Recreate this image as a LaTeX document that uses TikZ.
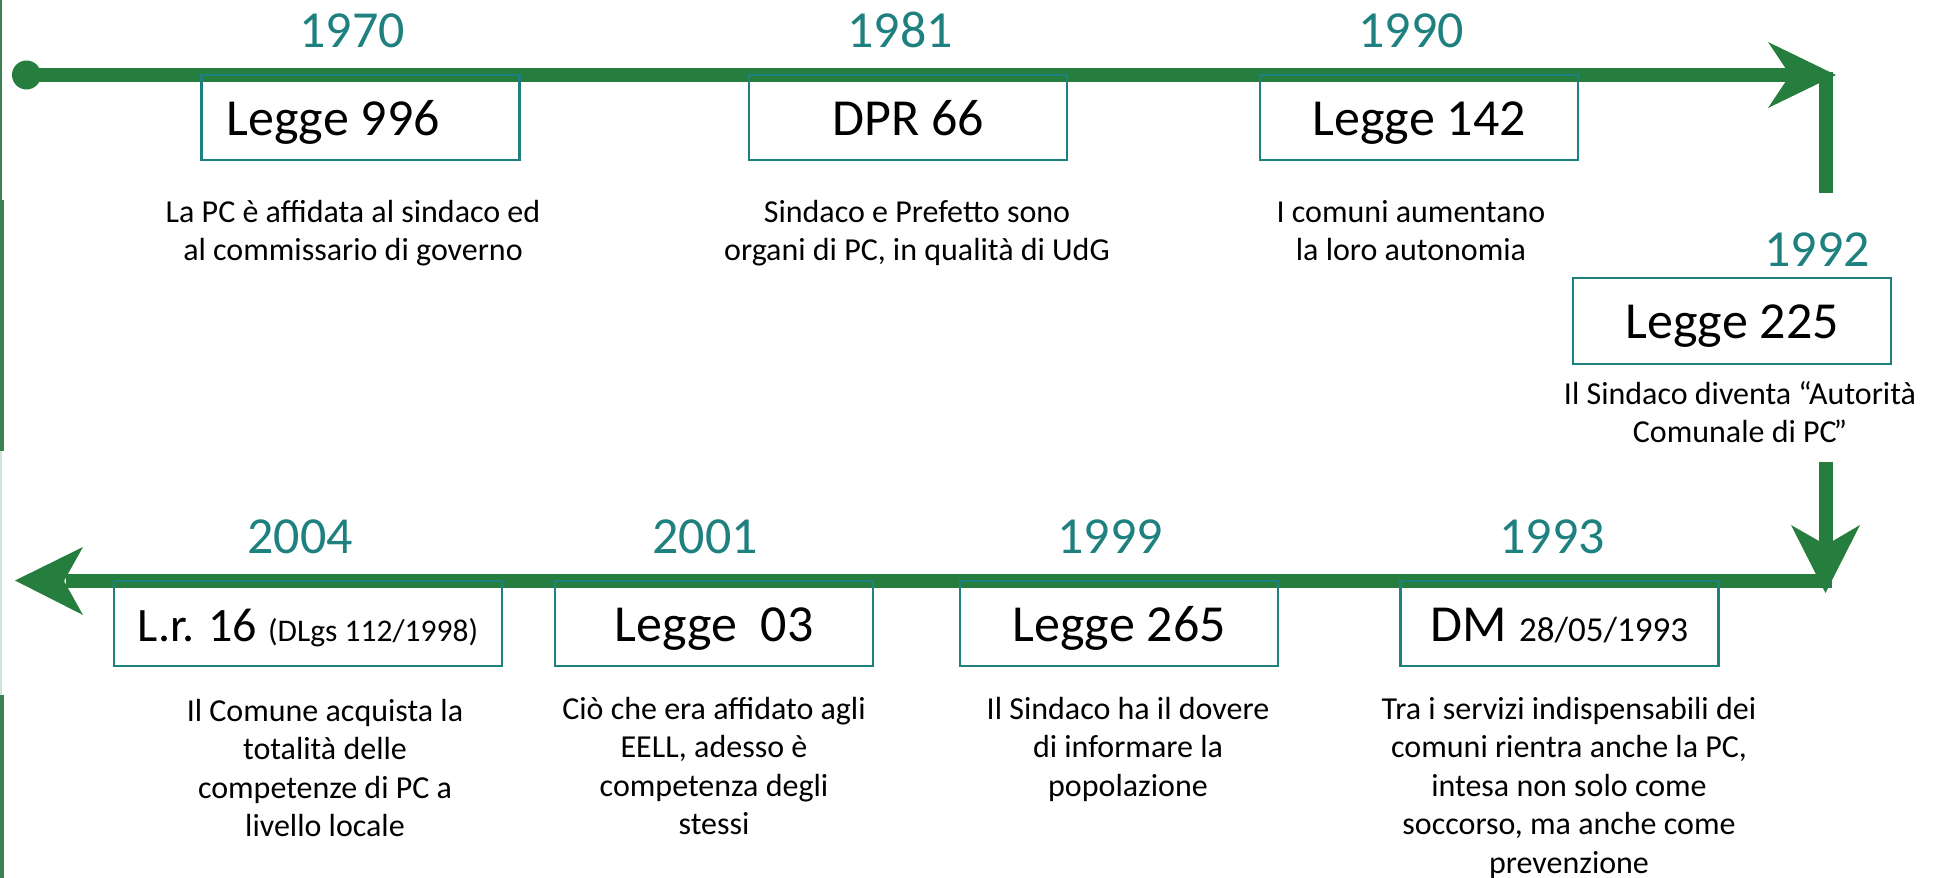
\documentclass[tikz,border=0pt]{standalone}
\usepackage{fontspec}
\setmainfont{Carlito}
\definecolor{lgreen}{HTML}{267E3E}
\definecolor{lteal}{HTML}{1F8080}
\definecolor{edgegreen}{HTML}{3C8150}
\definecolor{edgelight}{HTML}{CFE5D5}
\newcommand{\firstln}{\rule{0pt}{26pt}}
\begin{document}
\begin{tikzpicture}[x=1pt,y=-1pt,
  tline/.style={draw=lgreen, line width=13.5pt},
  ahead/.style={fill=lgreen},
  lawbox/.style={draw=lteal, line width=2.8pt, minimum width=318pt, minimum height=85pt,
    inner sep=0pt, text height=41pt, text depth=6pt, font=\fontsize{52}{62}\selectfont},
  yearlbl/.style={text=lteal, font=\fontsize{52}{62}\selectfont, anchor=base, inner sep=0pt},
  desc/.style={font=\fontsize{32}{38.5}\selectfont, align=center, anchor=north, inner sep=0pt}
]
\useasboundingbox (0,0) rectangle (1939,878);
% left edge strips
\fill[edgegreen] (0,0) rectangle (1.5,200);
\fill[edgegreen] (0,200) rectangle (4,451);
\fill[edgelight] (0,451) rectangle (2,695);
\fill[edgegreen] (0,695) rectangle (4,878);

% top timeline
\node[circle, fill=lgreen, minimum size=29pt, inner sep=0pt] (dot) at (26.5,75) {};
\coordinate (tend) at (1792,75);
\draw[tline] (dot.center) -- (tend);
\fill[ahead] (1836,75) -- (1768,42) -- (1790,75) -- (1768,108) -- cycle;
\coordinate (v1top) at (1826,72);
\coordinate (v1bot) at (1826,193);
\draw[tline, line width=14pt] (v1top) -- (v1bot);

% down arrow
\coordinate (v2top) at (1826,462);
\coordinate (v2end) at (1826,548);
\draw[tline, line width=14pt] (v2top) -- (v2end);
\fill[ahead] (1825.5,593) -- (1791,525) -- (1826,545) -- (1860,525) -- cycle;

% bottom timeline
\coordinate (brt) at (1832,581);
\coordinate (blt) at (66,581);
\draw[tline] (brt) -- (blt);
\fill[ahead] (15,580.5) -- (83,547) -- (64,581) -- (83,615) -- cycle;

% boxes
\node[lawbox] (b1970) at (360.5,117.5) {Legge 996\hspace*{55pt}};
\node[lawbox] (b1981) at (908,117.5) {DPR 66};
\node[lawbox] (b1990) at (1419,117.5) {Legge 142};
\node[lawbox, minimum height=86pt] (b1992) at (1732,321) {Legge 225};
\node[lawbox, minimum width=388pt] (b2004) at (308,623.5) {\fontsize{48}{56}\selectfont L.r. 16 {\fontsize{31.5}{38}\selectfont (DLgs 112/1998)}};
\node[lawbox] (b2001) at (714,623.5) {Legge\ \ 03};
\node[lawbox] (b1999) at (1119,623.5) {Legge 265};
\node[lawbox] (b1993) at (1559.5,623.5) {DM {\fontsize{35}{42}\selectfont 28/05/1993}};

% years
\node[yearlbl] (y1970) at (352,47) {1970};
\node[yearlbl] (y1981) at (900,47) {1981};
\node[yearlbl] (y1990) at (1411,47) {1990};
\node[yearlbl] (y1992) at (1817,266) {1992};
\node[yearlbl] (y2004) at (300,553) {2004};
\node[yearlbl] (y2001) at (705,553) {2001};
\node[yearlbl] (y1999) at (1110,553) {1999};
\node[yearlbl] (y1993) at (1552,553) {1993};

% descriptions
\node[desc] (d1970) at (353,196) {\firstln La PC è affidata al sindaco ed\\al commissario di governo};
\node[desc] (d1981) at (917,196) {\firstln Sindaco e Prefetto sono\\organi di PC, in qualità di UdG};
\node[desc] (d1990) at (1411,196) {\firstln I comuni aumentano\\la loro autonomia};
\node[desc] (d1992) at (1740,378) {\firstln Il Sindaco diventa “Autorità\\Comunale di PC\kern-3pt”};
\node[desc] (d2004) at (325,695) {\firstln Il Comune acquista la\\totalità delle\\competenze di PC a\\livello locale};
\node[desc] (d2001) at (714,693) {\firstln Ciò che era affidato agli\\EELL, adesso è\\competenza degli\\stessi};
\node[desc] (d1999) at (1128,693) {\firstln Il Sindaco ha il dovere\\di informare la\\popolazione};
\node[desc] (d1993) at (1569,693) {\firstln Tra i servizi indispensabili dei\\comuni rientra anche la PC,\\intesa non solo come\\soccorso, ma anche come\\prevenzione};
\end{tikzpicture}
\end{document}
